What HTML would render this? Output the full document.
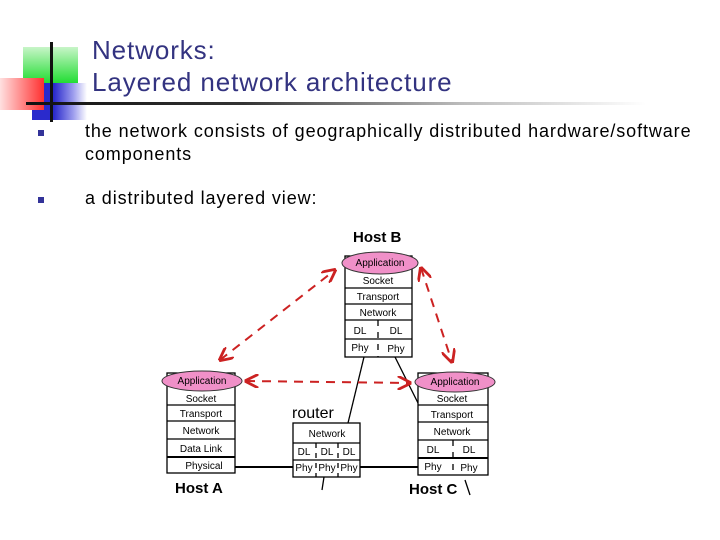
<!DOCTYPE html>
<html><head><meta charset="utf-8"><style>
html,body{margin:0;padding:0;background:#fff;}
body{width:720px;height:540px;position:relative;overflow:hidden;font-family:"Liberation Sans",sans-serif;}
.a{position:absolute;}
</style></head><body>
<div class="a" style="left:23px;top:47px;width:55px;height:36px;background:linear-gradient(to bottom,#c8f5c8,#22dd33);"></div>
<div class="a" style="left:32px;top:83px;width:55px;height:37px;background:linear-gradient(to right,#2a2acc 40%,rgba(60,60,220,0.5) 75%,rgba(255,255,255,0));"></div>
<div class="a" style="left:0;top:78px;width:44px;height:32px;background:linear-gradient(to right,#ffe0e0,#ff3030);"></div>
<div class="a" style="left:50px;top:42px;width:3px;height:80px;background:#111;"></div>
<div class="a" style="left:26px;top:102px;width:620px;height:3px;background:linear-gradient(to right,#111 0%,#333 35%,#bbb 70%,rgba(255,255,255,0));"></div>
<div class="a" style="left:92px;top:34px;font-size:26px;line-height:32px;color:#333380;letter-spacing:0.9px;">Networks:<br>Layered network architecture</div>
<div class="a" style="left:38px;top:130px;width:6px;height:6px;background:#333399;"></div>
<div class="a" style="left:38px;top:197px;width:6px;height:6px;background:#333399;"></div>
<div class="a" style="left:85px;top:120px;font-size:18px;line-height:23px;color:#000;letter-spacing:0.9px;">the network consists of geographically distributed hardware/software<br>components</div>
<div class="a" style="left:85px;top:187px;font-size:18px;line-height:23px;color:#000;letter-spacing:0.9px;">a distributed layered view:</div>
<svg class="a" style="left:0;top:0" width="720" height="540" font-family="Liberation Sans, sans-serif">
<defs><marker id="ar" viewBox="0 0 10 10" refX="9" refY="5" markerWidth="7" markerHeight="7" orient="auto-start-reverse"><path d="M0,0L10,5L0,10" fill="none" stroke="#cc2222" stroke-width="2"/></marker></defs>
<g stroke="#000" stroke-width="1.3" fill="#fff">
<rect x="345" y="256" width="67" height="101"/>
<line x1="345" y1="288" x2="412" y2="288"/><line x1="345" y1="304" x2="412" y2="304"/><line x1="345" y1="320" x2="412" y2="320"/><line x1="345" y1="339" x2="412" y2="339"/><line x1="378" y1="320" x2="378" y2="357" stroke-dasharray="6,6"/>
<rect x="167" y="373" width="68" height="100"/>
<line x1="167" y1="405" x2="235" y2="405"/><line x1="167" y1="421" x2="235" y2="421"/><line x1="167" y1="439" x2="235" y2="439"/><line x1="167" y1="457" x2="235" y2="457" stroke-width="2"/>
<rect x="418" y="373" width="70" height="102"/>
<line x1="418" y1="405" x2="488" y2="405"/><line x1="418" y1="422" x2="488" y2="422"/><line x1="418" y1="440" x2="488" y2="440"/><line x1="418" y1="458" x2="488" y2="458" stroke-width="2"/><line x1="453" y1="440" x2="453" y2="475" stroke-dasharray="6,6"/>
<rect x="293" y="423" width="67" height="54"/>
<line x1="293" y1="443" x2="360" y2="443"/><line x1="293" y1="460" x2="360" y2="460"/><line x1="316" y1="443" x2="316" y2="477" stroke-dasharray="5,5"/><line x1="338" y1="443" x2="338" y2="477" stroke-dasharray="5,5"/>
<line x1="235" y1="467" x2="293" y2="467" stroke-width="2"/><line x1="360" y1="467" x2="418" y2="467" stroke-width="2"/>
<line x1="364" y1="357" x2="348" y2="423"/><line x1="395" y1="357" x2="418" y2="403"/>
<line x1="324" y1="477" x2="322" y2="490"/><line x1="465" y1="480" x2="470" y2="495"/>
</g>
<g fill="#f090c8" stroke="#333" stroke-width="1">
<ellipse cx="380" cy="263" rx="38" ry="11"/>
<ellipse cx="202" cy="381" rx="40" ry="10"/>
<ellipse cx="455" cy="382" rx="40" ry="10"/>
</g>
<g stroke="#cc2222" stroke-width="2" stroke-dasharray="9,7" fill="none" marker-start="url(#ar)" marker-end="url(#ar)">
<line x1="220" y1="360" x2="335" y2="270"/>
<line x1="421" y1="268" x2="452" y2="362"/>
<line x1="246" y1="381" x2="410" y2="383"/>
</g>
<g font-size="10" text-anchor="middle" fill="#000">
<text x="380" y="266">Application</text><text x="378" y="284">Socket</text><text x="378" y="300">Transport</text><text x="378" y="316">Network</text>
<text x="360" y="334">DL</text><text x="396" y="334">DL</text><text x="360" y="351">Phy</text><text x="396" y="352">Phy</text>
<text x="202" y="384">Application</text><text x="201" y="402">Socket</text><text x="201" y="417">Transport</text><text x="201" y="434">Network</text><text x="201" y="452">Data Link</text><text x="204" y="469">Physical</text>
<text x="455" y="385">Application</text><text x="452" y="402">Socket</text><text x="452" y="418">Transport</text><text x="452" y="435">Network</text>
<text x="433" y="453">DL</text><text x="469" y="453">DL</text><text x="433" y="470">Phy</text><text x="469" y="471">Phy</text>
<text x="327" y="437">Network</text><text x="304" y="455">DL</text><text x="327" y="455">DL</text><text x="349" y="455">DL</text>
<text x="304" y="471">Phy</text><text x="327" y="471">Phy</text><text x="349" y="471">Phy</text>
</g>
<g font-size="15" font-weight="bold" fill="#000">
<text x="353" y="242">Host B</text><text x="292" y="418" font-weight="normal" font-size="16">router</text>
<text x="175" y="493">Host A</text><text x="409" y="494">Host C</text>
</g>
</svg>
</body></html>
